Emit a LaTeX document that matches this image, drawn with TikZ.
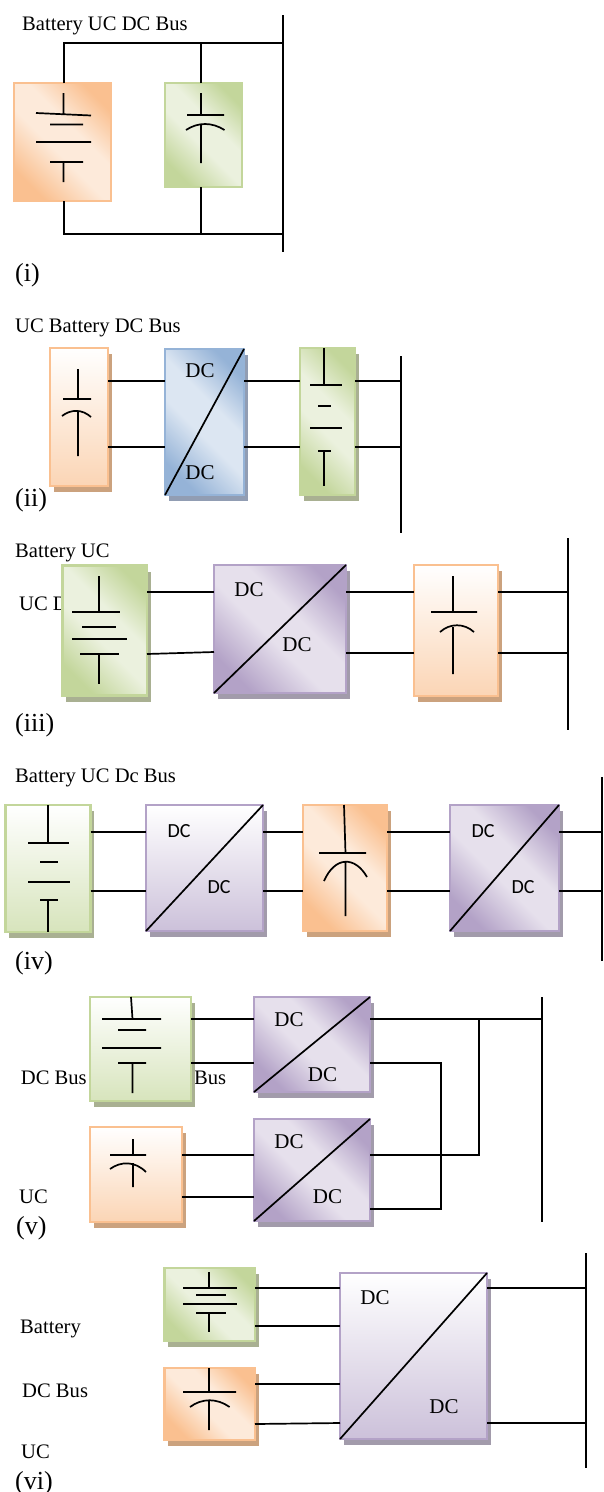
\documentclass[tikz,border=0pt]{standalone}
\usepackage{fontspec}
\setmainfont{Liberation Serif}
\newfontfamily\carlito{Carlito}
\usetikzlibrary{shadows}
% Couleurs
\definecolor{orangeF}{HTML}{FAC090}
\definecolor{orangeC}{HTML}{FDEADA}
\definecolor{orangeB}{HTML}{FBD5B5}
\definecolor{orangeO}{HTML}{CBA27E}
\definecolor{vertF}{HTML}{C3D69B}
\definecolor{vertC}{HTML}{EBF1DE}
\definecolor{vertB}{HTML}{D7E4BC}
\definecolor{vertO}{HTML}{A9B092}
\definecolor{bleuF}{HTML}{95B3D7}
\definecolor{bleuC}{HTML}{DCE6F2}
\definecolor{bleuO}{HTML}{919DB3}
\definecolor{violetF}{HTML}{B3A2C7}
\definecolor{violetC}{HTML}{E6E0EC}
\definecolor{violetB}{HTML}{CCC1DA}
\definecolor{violetO}{HTML}{A29BAB}
% Degrades en diagonale
\newcommand{\degrade}[3]{\pgfdeclarehorizontalshading{#1}{100bp}{color(0bp)=(#2); color(25bp)=(#2); color(45bp)=(#3); color(58bp)=(#3); color(76bp)=(#2); color(100bp)=(#2)}}
\degrade{diagOrange}{orangeF}{orangeC}
\degrade{diagVert}{vertF}{vertC}
\degrade{diagBleu}{bleuF}{bleuC}
\degrade{diagViolet}{violetF}{violetC}
\begin{document}
\begin{tikzpicture}[x=1pt,y=-1pt]
	% Styles
	\tikzstyle{fil}=[line width=1.7pt,black]
	\tikzstyle{trait}=[line width=1.7pt,black]
	\tikzstyle{barre}=[fill=black,minimum width=2pt,inner sep=0pt,outer sep=0pt]
	\tikzstyle{boite}=[line width=2.5pt,inner sep=0pt,outer sep=0pt]
	\tikzstyle{taille}=[minimum width=#1pt]
	\tikzstyle{haut}=[minimum height=#1pt]
	\tikzstyle{etiquette}=[anchor=base west,inner sep=0pt,font=\fontsize{20.6}{24}\selectfont]
	\tikzstyle{numero}=[anchor=base west,inner sep=0pt,font=\fontsize{26}{30}\selectfont]
	\tikzstyle{texteDC}=[inner sep=0pt,font=\fontsize{21}{24}\selectfont]
	\tikzstyle{texteDCb}=[inner sep=0pt,font=\carlito\fontsize{20}{24}\selectfont]
	% Remplissages
	\tikzstyle{orangeD}=[draw=orangeF,shading=diagOrange,shading angle=45]
	\tikzstyle{vertD}=[draw=vertF,shading=diagVert,shading angle=45]
	\tikzstyle{bleuD}=[draw=bleuF,shading=diagBleu,shading angle=45]
	\tikzstyle{violetD}=[draw=violetF,shading=diagViolet,shading angle=45]
	\tikzstyle{orangeV}=[draw=orangeF,top color=white,bottom color=orangeB]
	\tikzstyle{vertV}=[draw=vertF,top color=white,bottom color=vertB]
	\tikzstyle{violetV}=[draw=violetF,top color=white,bottom color=violetB]
	\tikzstyle{ombreOrange}=[general shadow={shadow xshift=3.5pt,shadow yshift=-6pt,fill=orangeO}]
	\tikzstyle{ombreVert}=[general shadow={shadow xshift=3.5pt,shadow yshift=-6pt,fill=vertO}]
	\tikzstyle{ombreBleu}=[general shadow={shadow xshift=3.5pt,shadow yshift=-6pt,fill=bleuO}]
	\tikzstyle{ombreViolet}=[general shadow={shadow xshift=3.5pt,shadow yshift=-6pt,fill=violetO}]
	% Hauteurs des fils
	\def\HautA{43}\def\BasA{234}
	\def\HautB{381}\def\BasB{447}
	\def\HautC{592}\def\BasC{653}
	\def\HautD{832}\def\BasD{891}
	\def\HautE{1019}\def\MilE{1063}\def\ResteE{1155}\def\BasE{1197}\def\RetourE{1209}
	\def\HautF{1288}\def\MilF{1326}\def\ResteF{1384}\def\BasF{1423}
	\useasboundingbox (0,0) rectangle (603,1492);
	%
	% Montage (i)
	\node[etiquette] (titreA) at (22,30) {Battery UC DC Bus};
	\node[numero] (numA) at (15,281) {(i)};
	\node[boite,orangeD,taille=97,haut=118] (batA) at (62.5,142) {};
	\node[boite,vertD,taille=77,haut=104] (ucA) at (203.5,135) {};
	\node[barre,minimum height=237pt] (busA) at (283,133.5) {};
	\coordinate (jonctionAh) at (201,\HautA);
	\coordinate (jonctionAb) at (201,\BasA);
	\draw[fil] (batA.north -| 64,0) |- (busA |- 0,\HautA);
	\draw[fil] (batA.south -| 64,0) |- (busA |- 0,\BasA);
	\draw[fil] (ucA.north -| jonctionAh) -- (jonctionAh);
	\draw[fil] (ucA.south -| jonctionAb) -- (jonctionAb);
	\draw[trait] (63.5,93)--(63.5,114) (36,113)--(91,115.5) (50,124.5)--(83,124.5) (36,142)--(91,142) (50,162)--(83,162) (63.5,162)--(63.5,182);
	\draw[trait] (201,93)--(201,115) (187,115)--(224,115) (186,130) .. controls (198,122) and (212,122) .. (224.5,130) (201,124)--(201,163);
	%
	% Montage (ii)
	\node[etiquette] (titreB) at (15,332) {UC Battery DC Bus};
	\node[numero] (numB) at (15,506) {(ii)};
	\node[boite,orangeV,ombreOrange,taille=58,haut=138] (ucB) at (79,417) {};
	\node[boite,bleuD,ombreBleu,taille=79,haut=146] (dcB) at (204.5,422) {};
	\node[boite,vertD,ombreVert,taille=55,haut=147] (batB) at (327.5,421.5) {};
	\node[barre,minimum height=177pt] (busB) at (401,444.5) {};
	\node[texteDC] (dcBh) at (200,371) {DC};
	\node[texteDC] (dcBb) at (200,473) {DC};
	\draw[fil] (ucB.east |- 0,\HautB) -- (dcB.west |- 0,\HautB);
	\draw[fil] (ucB.east |- 0,\BasB) -- (dcB.west |- 0,\BasB);
	\draw[fil] (dcB.east |- 0,\HautB) -- (batB.west |- 0,\HautB);
	\draw[fil] (dcB.east |- 0,\BasB) -- (batB.west |- 0,\BasB);
	\draw[fil] (batB.east |- 0,\HautB) -- (busB |- 0,\HautB);
	\draw[fil] (batB.east |- 0,\BasB) -- (busB |- 0,\BasB);
	\draw[fil] (dcB.south west) -- (dcB.north east);
	\draw[trait] (78,369)--(78,399) (63,399)--(91,399) (62,416) .. controls (71,409) and (82,409) .. (91,417) (78,412)--(78,456);
	\draw[trait] (324,348)--(324,385) (310,385)--(342,385) (318,406)--(331,406) (310,428)--(342,428) (318,451)--(331,451) (324,451)--(324,486);
	%
	% Montage (iii)
	\node[etiquette] (titreC) at (15,557) {Battery UC};
	\node[etiquette] (titreCb) at (19,610) {UC D};
	\node[numero] (numC) at (15,731) {(iii)};
	\node[boite,vertD,ombreVert,taille=84.5,haut=130] (batC) at (104.75,630.5) {};
	\node[boite,violetD,ombreViolet,taille=132,haut=128] (dcC) at (280,629) {};
	\node[boite,orangeV,ombreOrange,taille=84,haut=131] (ucC) at (456,630.5) {};
	\node[barre,minimum height=192pt] (busC) at (568,634) {};
	\node[texteDC] (dcCh) at (249,590) {DC};
	\node[texteDC] (dcCb) at (297,645) {DC};
	\draw[fil] (batC.east |- 0,\HautC) -- (dcC.west |- 0,\HautC);
	\draw[fil] (batC.east |- 0,654) -- (dcC.west |- 0,652);
	\draw[fil] (dcC.east |- 0,\HautC) -- (ucC.west |- 0,\HautC);
	\draw[fil] (dcC.east |- 0,\BasC) -- (ucC.west |- 0,\BasC);
	\draw[fil] (ucC.east |- 0,\HautC) -- (busC |- 0,\HautC);
	\draw[fil] (ucC.east |- 0,\BasC) -- (busC |- 0,\BasC);
	\draw[fil] (dcC.south west) -- (dcC.north east);
	\draw[trait] (99,576)--(99,612) (72,612)--(120,612) (82,627)--(116,627) (72,639)--(127,639) (80,654)--(119,654) (99,654)--(99,684);
	\draw[trait] (453,576)--(453,612) (431,612)--(477,612) (440,632) .. controls (450,623) and (464,623) .. (474,632) (453,627)--(453,674);
	%
	% Montage (iv)
	\node[etiquette] (titreD) at (15,782) {Battery UC Dc Bus};
	\node[numero] (numD) at (15,969) {(iv)};
	\node[boite,vertV,ombreVert,taille=85,haut=127] (batD) at (48,868.5) {};
	\node[boite,violetV,ombreViolet,taille=117,haut=126] (dcD) at (204.5,868) {};
	\node[boite,orangeD,ombreOrange,taille=84,haut=126] (ucD) at (345,868) {};
	\node[boite,violetD,ombreViolet,taille=109,haut=126] (dcDb) at (504.5,868) {};
	\node[barre,minimum height=184pt] (busD) at (602,869) {};
	\node[texteDCb] (dcDh) at (179,831) {DC};
	\node[texteDCb] (dcDl) at (219,887) {DC};
	\node[texteDCb] (dcDbh) at (483,831) {DC};
	\node[texteDCb] (dcDbl) at (523,887) {DC};
	\draw[fil] (batD.east |- 0,\HautD) -- (dcD.west |- 0,\HautD);
	\draw[fil] (batD.east |- 0,\BasD) -- (dcD.west |- 0,\BasD);
	\draw[fil] (dcD.east |- 0,\HautD) -- (ucD.west |- 0,\HautD);
	\draw[fil] (dcD.east |- 0,\BasD) -- (ucD.west |- 0,\BasD);
	\draw[fil] (ucD.east |- 0,\HautD) -- (dcDb.west |- 0,\HautD);
	\draw[fil] (ucD.east |- 0,\BasD) -- (dcDb.west |- 0,\BasD);
	\draw[fil] (dcDb.east |- 0,\HautD) -- (busD |- 0,\HautD);
	\draw[fil] (dcDb.east |- 0,\BasD) -- (busD |- 0,\BasD);
	\draw[fil] (dcD.south west) -- (dcD.north east);
	\draw[fil] (dcDb.south west) -- (dcDb.north east);
	\draw[trait] (48,805)--(48,843) (28,843)--(68.5,843) (40,862)--(58,862) (28,882)--(70,882) (40,900)--(58,900) (48,900)--(48,932);
	\draw[trait] (344,805)--(345.5,853) (319,853)--(366,853) (324,881) .. controls (335,856) and (355,856) .. (367,877) (345.5,862)--(345.5,916);
	%
	% Montage (v)
	\node[etiquette] (titreEa) at (20.7,1084) {DC Bus};
	\node[etiquette] (titreEb) at (194,1084) {Bus};
	\node[etiquette] (titreEc) at (19,1203) {UC};
	\node[numero] (numE) at (16,1234) {(v)};
	\node[boite,vertV,ombreVert,taille=101,haut=104] (batE) at (140.5,1049) {};
	\node[boite,orangeV,ombreOrange,taille=92,haut=95] (ucE) at (136,1174.5) {};
	\node[boite,violetD,ombreViolet,taille=116,haut=95] (dcE) at (312,1044.5) {};
	\node[boite,violetD,ombreViolet,taille=116,haut=102] (dcEb) at (312,1170) {};
	\node[barre,minimum height=225pt] (busE) at (541.8,1109.5) {};
	\node[texteDC] (dcEh) at (289,1020) {DC};
	\node[texteDC] (dcEl) at (322.5,1075) {DC};
	\node[texteDC] (dcEbh) at (289,1142) {DC};
	\node[texteDC] (dcEbl) at (327.5,1197) {DC};
	\coordinate (retourE) at (441,\MilE);
	\coordinate (jonctionE) at (479,\HautE);
	\draw[fil] (batE.east |- 0,\HautE) -- (dcE.west |- 0,\HautE);
	\draw[fil] (batE.east |- 0,\MilE) -- (dcE.west |- 0,\MilE);
	\draw[fil] (ucE.east |- 0,\ResteE) -- (dcEb.west |- 0,\ResteE);
	\draw[fil] (ucE.east |- 0,\BasE) -- (dcEb.west |- 0,\BasE);
	\draw[fil] (dcE.east |- 0,\HautE) -- (busE |- 0,\HautE);
	\draw[fil] (dcE.east |- 0,\MilE) -- (retourE) |- (dcEb.east |- 0,\RetourE);
	\draw[fil] (dcEb.east |- 0,\ResteE) -| (jonctionE);
	\draw[fil] (dcE.south west) -- (dcE.north east);
	\draw[fil] (dcEb.south west) -- (dcEb.north east);
	\draw[trait] (131,997)--(132.5,1019) (102,1019)--(161,1019) (118,1030)--(146,1030) (102,1048)--(161,1048) (118,1063)--(146,1063) (132.5,1063)--(132.5,1093);
	\draw[trait] (133,1139)--(133,1155) (110,1155)--(146,1155) (110,1169) .. controls (121,1161) and (135,1161) .. (146,1172) (133,1163)--(133,1187);
	%
	% Montage (vi)
	\node[etiquette] (titreFa) at (20,1333) {Battery};
	\node[etiquette] (titreFb) at (22,1397) {DC Bus};
	\node[etiquette] (titreFc) at (21,1458) {UC};
	\node[numero] (numF) at (15,1489) {(vi)};
	\node[boite,vertD,ombreVert,taille=90.5,haut=73] (batF) at (209.75,1304.5) {};
	\node[boite,orangeD,ombreOrange,taille=90.5,haut=72] (ucF) at (209.75,1404) {};
	\node[boite,violetV,ombreViolet,taille=147,haut=166] (dcF) at (413.5,1356) {};
	\node[barre,minimum height=215pt] (busF) at (586,1360.5) {};
	\node[texteDC] (dcFh) at (375,1298) {DC};
	\node[texteDC] (dcFb) at (444,1407) {DC};
	\draw[fil] (batF.east |- 0,\HautF) -- (dcF.west |- 0,\HautF);
	\draw[fil] (batF.east |- 0,\MilF) -- (dcF.west |- 0,\MilF);
	\draw[fil] (ucF.east |- 0,\ResteF) -- (dcF.west |- 0,\ResteF);
	\draw[fil] (ucF.east |- 0,1424) -- (dcF.west |- 0,\BasF);
	\draw[fil] (dcF.east |- 0,\HautF) -- (busF |- 0,\HautF);
	\draw[fil] (dcF.east |- 0,\BasF) -- (busF |- 0,\BasF);
	\draw[fil] (dcF.south west) -- (dcF.north east);
	\draw[trait] (209,1272)--(209,1288) (183,1288)--(236.5,1288) (196,1295)--(226,1295) (183,1304)--(236.5,1304) (196,1313)--(226,1313) (209,1313)--(209,1332);
	\draw[trait] (209,1368)--(209,1392) (183,1392)--(236,1392) (190,1407) .. controls (202,1398) and (217,1398) .. (229.6,1407) (209,1400)--(209,1430);
\end{tikzpicture}
\end{document}
